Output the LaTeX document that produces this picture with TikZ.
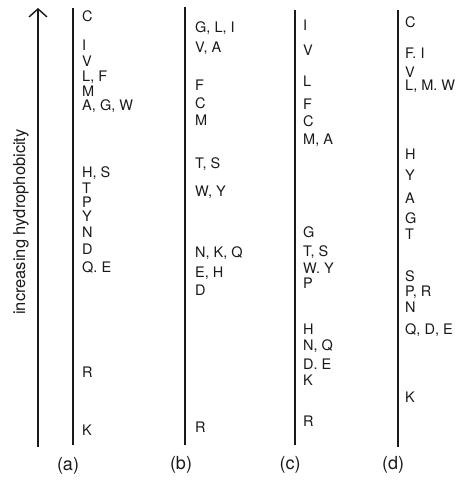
\documentclass[tikz,border=0pt]{standalone}
\usepackage{fontspec}
\setmainfont{TeX Gyre Heros}
\usepackage{tikz}
\usetikzlibrary{positioning,arrows.meta}
\definecolor{ink}{HTML}{1A1A1A}
\tikzset{
  every node/.style={font=\fontsize{14.5}{16}\selectfont, text=ink},
  % --- nodes
  res/.style   = {anchor=base west, inner sep=0pt, yshift=-5pt},
  tag/.style   = {inner sep=0pt, font=\fontsize{18}{20}\selectfont},
  axlbl/.style = {inner sep=0pt, rotate=90, font=\fontsize{16.5}{18}\selectfont},
  % --- edges
  scaleline/.style = {line width=1.4pt, draw=ink},
  uparrow/.style   = {scaleline, -{Straight Barb[length=8pt,width=18pt,line width=1.4pt]}},
}
\begin{document}
\begin{tikzpicture}[x=1pt,y=-1pt]
  \useasboundingbox (0,0) rectangle (470,481);

  % hydrophobicity axis
  \coordinate (hbot) at (38,447);
  \coordinate (htop) at (38,8);
  \draw[uparrow] (hbot) -- (htop);
  \node[axlbl] (hlbl) at (21,222) {increasing hydrophobicity};

  % scale lines
  \coordinate (atop) at (73,8);   \coordinate (abot) at (73,445);
  \coordinate (btop) at (185,7);  \coordinate (bbot) at (185,445);
  \coordinate (ctop) at (295,10); \coordinate (cbot) at (295,445);
  \coordinate (dtop) at (398,10); \coordinate (dbot) at (398,447);
  \foreach \c in {a,b,c,d}
    \draw[scaleline] (\c bot) -- (\c top);

  % residues, scale (a)
  \foreach \y/\t [count=\i] in {17/C, 46/I, 62/V, 77/{L, F}, 92/M, 106/{A, G, W},
      172/{H, S}, 188/T, 202/P, 216/Y, 232/N, 249/D, 267/{Q. E}, 372/R, 430/K}
    \node[res] (a\i) at (82,\y) {\t};

  % residues, scale (b)
  \foreach \y/\t [count=\i] in {28/{G, L, I}, 48/{V, A}, 86/F, 104/C, 121/M,
      163/{T, S}, 191/{W, Y}, 252/{N, K, Q}, 272/{E, H}, 290/D, 427/R}
    \node[res] (b\i) at (195,\y) {\t};

  % residues, scale (c)
  \foreach \y/\t [count=\i] in {26/I, 51/V, 82/L, 105/F, 122/C, 140/{M, A},
      232/G, 251/{T, S}, 268/{W. Y}, 283/P, 329/H, 345/{N, Q}, 364/{D. E}, 380/K, 421/R}
    \node[res] (c\i) at (303,\y) {\t};

  % residues, scale (d)
  \foreach \y/\t [count=\i] in {23/C, 54/{F. I}, 73/V, 86/{L, M. W}, 154/H, 175/Y,
      198/A, 218/G, 234/T, 276/S, 291/{P, R}, 307/N, 329/{Q, D, E}, 397/K}
    \node[res] (d\i) at (405,\y) {\t};

  \node[tag] (alab) at (68,466)  {(a)};
  \node[tag] (blab) at (181,465) {(b)};
  \node[tag] (clab) at (290,465) {(c)};
  \node[tag] (dlab) at (393,465) {(d)};
\end{tikzpicture}
\end{document}
